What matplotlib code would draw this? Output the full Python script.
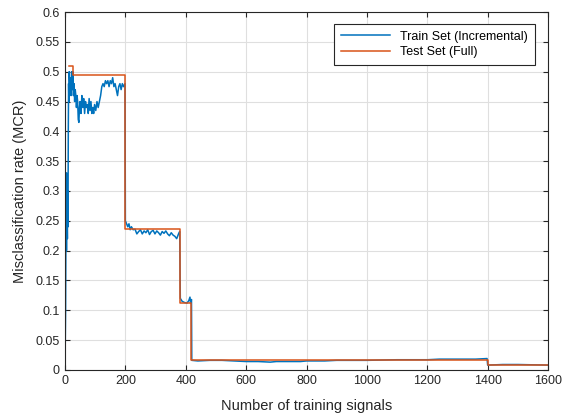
import numpy as np
import matplotlib
matplotlib.use("Agg")
import matplotlib.pyplot as plt

#train set MCR
train_x = [0, 2, 4, 5, 6, 7, 8, 9, 10, 11, 12, 13, 14, 16, 18, 20, 22, 24, 26, 28, 30, 32, 34, 36, 38, 40,
           42, 44, 46, 48, 50, 53, 56, 59, 62, 65, 68, 71, 74, 77, 80, 83, 86, 89, 92, 95, 98, 102, 106, 110,
           114, 118, 122, 126, 130, 134, 138, 142, 146, 150, 154, 158, 162, 166, 170, 174, 178, 182, 186, 190,
           194, 199, 200, 204, 208, 212, 216, 220, 226, 232, 238, 244, 250, 256, 262, 268, 274, 280, 286, 292,
           298, 304, 310, 316, 322, 328, 334, 340, 346, 352, 358, 364, 370, 376, 380, 382, 388, 396, 404, 410,
           414, 416, 419, 420, 440, 480, 520, 560, 600, 640, 680, 700, 740, 780, 800, 860, 900, 960, 1000, 1100,
           1200, 1240, 1300, 1360, 1398, 1400, 1450, 1500, 1600]
train_y = [0.0, 0.10, 0.33, 0.20, 0.33, 0.25, 0.22, 0.30, 0.24, 0.40, 0.48, 0.45, 0.50, 0.47, 0.49, 0.46, 0.50, 0.47, 0.50, 0.46, 0.48, 0.45, 0.47, 0.46, 0.44, 0.46,
           0.45, 0.42, 0.415, 0.44, 0.45, 0.43, 0.46, 0.44, 0.455, 0.43, 0.45, 0.44, 0.445, 0.43, 0.455, 0.435, 0.45, 0.43, 0.44, 0.43, 0.445, 0.435, 0.45, 0.44,
           0.45, 0.46, 0.475, 0.48, 0.475, 0.485, 0.48, 0.485, 0.475, 0.485, 0.48, 0.49, 0.475, 0.48, 0.47, 0.46, 0.475, 0.48, 0.47, 0.48,
           0.475, 0.48, 0.25, 0.245, 0.24, 0.245, 0.235, 0.24, 0.235, 0.236, 0.228, 0.232, 0.235, 0.228, 0.233, 0.23, 0.235, 0.227, 0.232, 0.234,
           0.228, 0.233, 0.23, 0.226, 0.232, 0.229, 0.233, 0.228, 0.225, 0.23, 0.226, 0.224, 0.22, 0.228, 0.232, 0.12, 0.115, 0.113, 0.112, 0.116,
           0.122, 0.112, 0.118, 0.016, 0.015, 0.016, 0.016, 0.015, 0.014, 0.014, 0.013, 0.014, 0.014, 0.014, 0.015, 0.015, 0.016, 0.016, 0.016, 0.017,
           0.017, 0.018, 0.018, 0.018, 0.019, 0.008, 0.009, 0.009, 0.008]

#test set MCR, step function (value holds until next breakpoint)
test_x = [14, 26, 200, 381, 419, 1400, 1600]
test_y = [0.51, 0.494, 0.236, 0.112, 0.017, 0.008, 0.008]

blue = "#0072BD"
orange = "#D95319"

plt.rcParams['font.family'] = ['Liberation Sans', 'DejaVu Sans']

fig = plt.figure(figsize=(5.65, 4.17), dpi=100)
ax = fig.add_axes([0.115, 0.113, 0.855, 0.858])

ax.plot(train_x, train_y, color=blue, lw=1.1, label="Train Set (Incremental)")
ax.step(test_x, test_y, where="post", color=orange, lw=1.1, label="Test Set (Full)")

ax.set_xlim(0, 1600)
ax.set_ylim(0, 0.6)
ax.set_xticks(np.arange(0, 1601, 200))
ax.set_yticks(np.arange(0, 0.601, 0.05))
ax.set_yticklabels(["0", "0.05", "0.1", "0.15", "0.2", "0.25", "0.3", "0.35", "0.4", "0.45", "0.5", "0.55", "0.6"])
ax.grid(True, color="#dfdfdf", lw=0.8)
ax.set_axisbelow(True)
ax.tick_params(direction="in", top=True, right=True, labelsize=9, length=3.5, width=0.8, colors="#262626", pad=4)
for s in ax.spines.values():
    s.set_color("#262626")
    s.set_linewidth(0.8)

ax.set_xlabel("Number of training signals", fontsize=10.5, color="#262626", labelpad=8)
ax.set_ylabel("Misclassification rate (MCR)", fontsize=10.5, color="#262626", labelpad=6)

leg = ax.legend(loc="upper right", bbox_to_anchor=(0.985, 0.985), fontsize=9, fancybox=False,
                edgecolor="#262626", framealpha=1, handlelength=3.9, borderpad=0.55, labelspacing=0.3)
leg.get_frame().set_linewidth(0.8)

fig.savefig("out.png", dpi=100)
